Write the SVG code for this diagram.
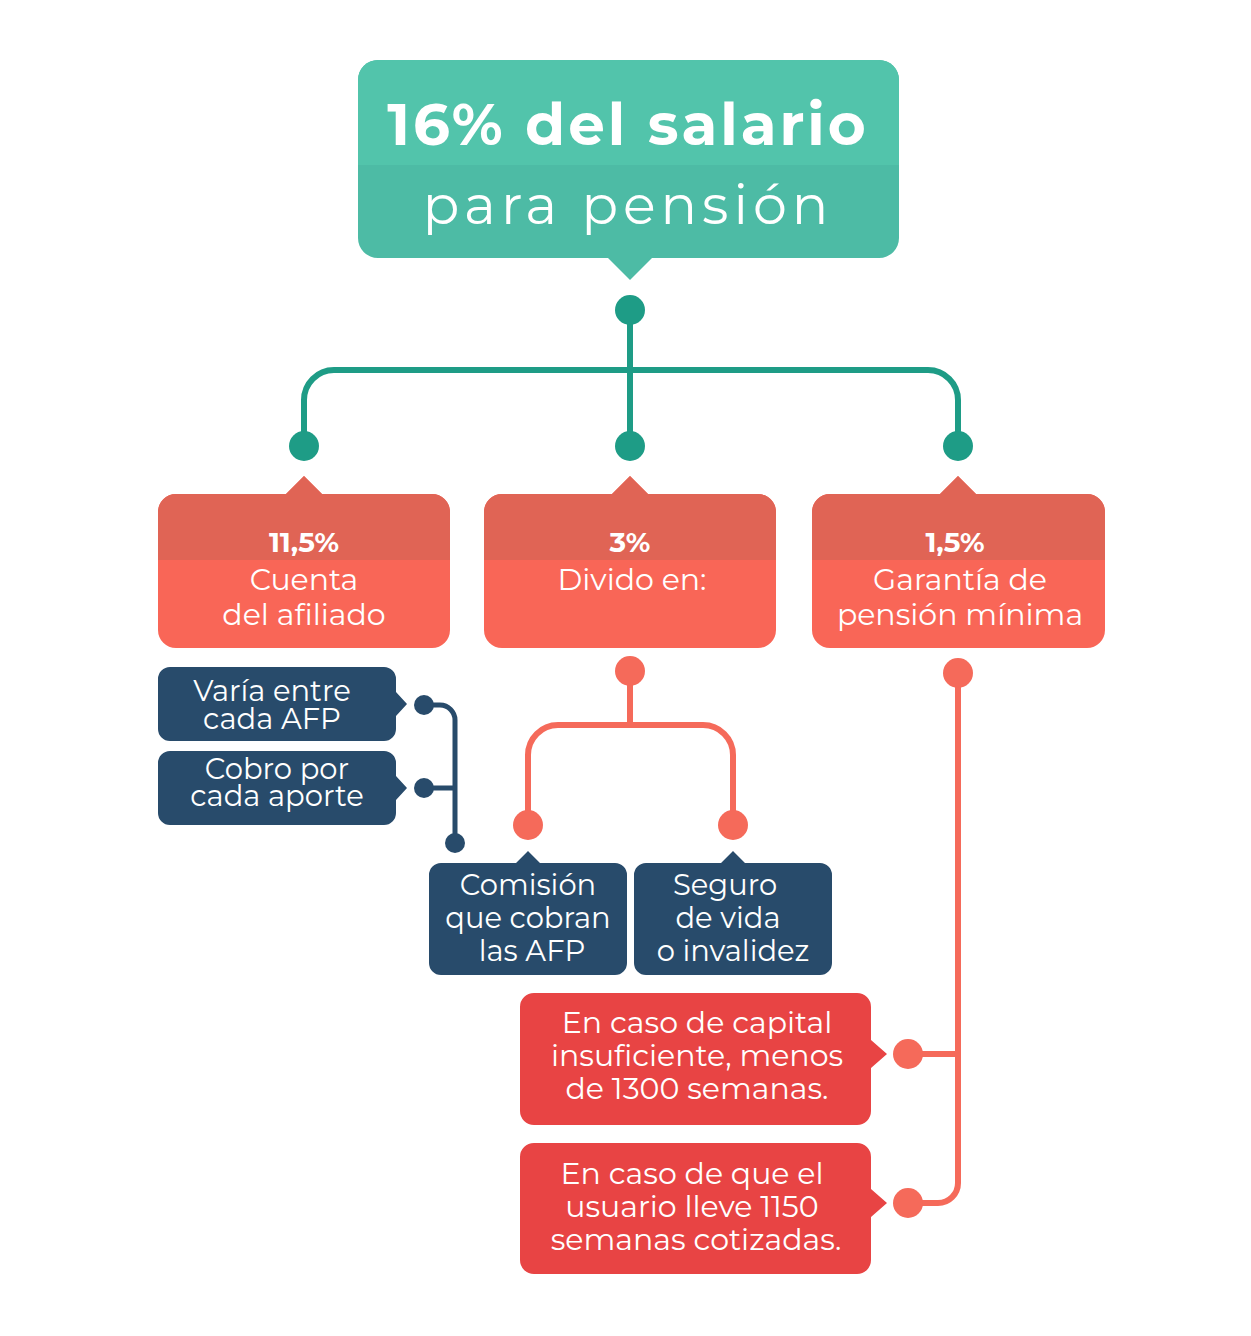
<svg xmlns="http://www.w3.org/2000/svg" width="1251" height="1336" viewBox="0 0 1251 1336">
<style>
text{font-family:"Montserrat","Open Sans","Liberation Sans",sans-serif;fill:#fff;text-anchor:middle}
.h{font-weight:bold;font-size:28px}
.b{font-size:30px}
.d{font-size:29px}
.tl{fill:none;stroke:#1e9c86;stroke-width:6}
.rl{fill:none;stroke:#f56a5a;stroke-width:6}
.bl{fill:none;stroke:#284b6b;stroke-width:5}
</style>
<rect width="1251" height="1336" fill="#fff"/>
<g id="top">
<path d="M378 60H879A20 20 0 0 1 899 80V238A20 20 0 0 1 879 258H652L630 280L608 258H378A20 20 0 0 1 358 238V80A20 20 0 0 1 378 60Z" fill="#4dbba5"/>
<path d="M378 60H879A20 20 0 0 1 899 80V165H358V80A20 20 0 0 1 378 60Z" fill="#52c4ab"/>
<text x="628" y="145" style="font-size:58px;font-weight:bold;letter-spacing:3px">16% del salario</text>
<text x="628" y="224" style="font-size:54px;letter-spacing:5px">para pensión</text>
</g>
<g id="connectors">
<path class="tl" d="M630 310V446M304 446V400A30 30 0 0 1 334 370H928A30 30 0 0 1 958 400V446"/>
<circle cx="630" cy="310" r="15" fill="#1e9c86"/>
<circle cx="304" cy="446" r="15" fill="#1e9c86"/>
<circle cx="630" cy="446" r="15" fill="#1e9c86"/>
<circle cx="958" cy="446" r="15" fill="#1e9c86"/>
<path class="rl" d="M630 671V725M528 825V755A30 30 0 0 1 558 725H703A30 30 0 0 1 733 755V825"/>
<circle cx="630" cy="671" r="15" fill="#f56a5a"/>
<circle cx="528" cy="825" r="15" fill="#f56a5a"/>
<circle cx="733" cy="825" r="15" fill="#f56a5a"/>
<path class="rl" d="M958 673V1183A20 20 0 0 1 938 1203H908M958 1054H908"/>
<circle cx="958" cy="673" r="15" fill="#f56a5a"/>
<circle cx="908" cy="1054" r="15" fill="#f56a5a"/>
<circle cx="908" cy="1203" r="15" fill="#f56a5a"/>
<path class="bl" d="M424 705H440A15 15 0 0 1 455 720V843M424 788H455"/>
<circle cx="424" cy="705" r="10" fill="#284b6b"/>
<circle cx="424" cy="788" r="10" fill="#284b6b"/>
<circle cx="455" cy="843" r="10" fill="#284b6b"/>
</g>
<defs>
<clipPath id="c1"><rect x="0" y="0" width="1251" height="560"/></clipPath>
</defs>
<g id="n1">
<path d="M176 494H286L304 476L322 494H432A18 18 0 0 1 450 512V630A18 18 0 0 1 432 648H176A18 18 0 0 1 158 630V512A18 18 0 0 1 176 494Z" fill="#f96657"/>
<path d="M176 494H286L304 476L322 494H432A18 18 0 0 1 450 512V560H158V512A18 18 0 0 1 176 494Z" fill="#e06455"/>
<text class="h" x="304" y="552">11,5%</text>
<text class="b" x="304" y="590">Cuenta</text>
<text class="b" x="304" y="625">del afiliado</text>
</g>
<g id="n2">
<path d="M502 494H612L630 476L648 494H758A18 18 0 0 1 776 512V630A18 18 0 0 1 758 648H502A18 18 0 0 1 484 630V512A18 18 0 0 1 502 494Z" fill="#f96657"/>
<path d="M502 494H612L630 476L648 494H758A18 18 0 0 1 776 512V560H484V512A18 18 0 0 1 502 494Z" fill="#e06455"/>
<text class="h" x="630" y="552">3%</text>
<text class="b" x="632" y="590">Divido en:</text>
</g>
<g id="n3">
<path d="M830 494H940L958 476L976 494H1087A18 18 0 0 1 1105 512V630A18 18 0 0 1 1087 648H830A18 18 0 0 1 812 630V512A18 18 0 0 1 830 494Z" fill="#f96657"/>
<path d="M830 494H940L958 476L976 494H1087A18 18 0 0 1 1105 512V560H812V512A18 18 0 0 1 830 494Z" fill="#e06455"/>
<text class="h" x="955" y="552">1,5%</text>
<text class="b" x="960" y="590">Garantía de</text>
<text class="b" x="960" y="625">pensión mínima</text>
</g>
<g id="n4">
<path d="M170 667H384A12 12 0 0 1 396 679V692L407 704L396 716V729A12 12 0 0 1 384 741H170A12 12 0 0 1 158 729V679A12 12 0 0 1 170 667Z" fill="#284b6b"/>
<text class="d" x="272" y="701">Varía entre</text>
<text class="d" x="272" y="729">cada AFP</text>
</g>
<g id="n5">
<path d="M170 751H384A12 12 0 0 1 396 763V776L407 788L396 800V813A12 12 0 0 1 384 825H170A12 12 0 0 1 158 813V763A12 12 0 0 1 170 751Z" fill="#284b6b"/>
<text class="d" x="277" y="779">Cobro por</text>
<text class="d" x="277" y="806">cada aporte</text>
</g>
<g id="n6">
<path d="M441 863H516L528 851L540 863H615A12 12 0 0 1 627 875V963A12 12 0 0 1 615 975H441A12 12 0 0 1 429 963V875A12 12 0 0 1 441 863Z" fill="#284b6b"/>
<text class="d" x="528" y="895">Comisión</text>
<text class="d" x="528" y="928">que cobran</text>
<text class="d" x="532" y="961">las AFP</text>
</g>
<g id="n7">
<path d="M646 863H721L733 851L745 863H820A12 12 0 0 1 832 875V963A12 12 0 0 1 820 975H646A12 12 0 0 1 634 963V875A12 12 0 0 1 646 863Z" fill="#284b6b"/>
<text class="d" x="725" y="895">Seguro</text>
<text class="d" x="728" y="928">de vida</text>
<text class="d" x="733" y="961">o invalidez</text>
</g>
<g id="n8">
<path d="M534 993H857A14 14 0 0 1 871 1007V1040L887 1054L871 1068V1111A14 14 0 0 1 857 1125H534A14 14 0 0 1 520 1111V1007A14 14 0 0 1 534 993Z" fill="#e84444"/>
<text class="b" x="697" y="1033">En caso de capital</text>
<text class="b" x="697" y="1066">insuficiente, menos</text>
<text class="b" x="697" y="1099">de 1300 semanas.</text>
</g>
<g id="n9">
<path d="M534 1143H857A14 14 0 0 1 871 1157V1189L887 1203L871 1217V1260A14 14 0 0 1 857 1274H534A14 14 0 0 1 520 1260V1157A14 14 0 0 1 534 1143Z" fill="#e84444"/>
<text class="b" x="692" y="1184">En caso de que el</text>
<text class="b" x="692" y="1217">usuario lleve 1150</text>
<text class="b" x="696" y="1250">semanas cotizadas.</text>
</g>
</svg>
